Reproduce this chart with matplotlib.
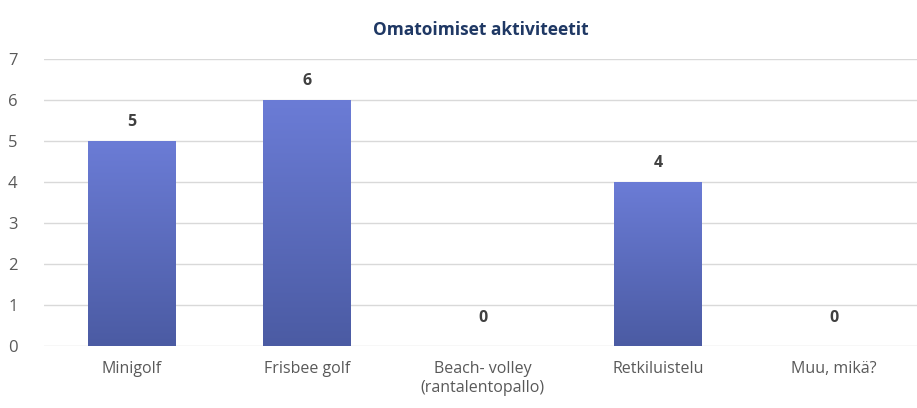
import matplotlib.pyplot as plt
import numpy as np
from matplotlib.colors import LinearSegmentedColormap

categories = ["Minigolf", "Frisbee golf", "Beach- volley\n(rantalentopallo)",
              "Retkiluistelu", "Muu, mikä?"]
values = [5, 6, 0, 4, 0]
title = "Omatoimiset aktiviteetit"

plt.rcParams["font.family"] = ["Open Sans", "DejaVu Sans"]

W, H = 917, 408
fig = plt.figure(figsize=(W / 100, H / 100), dpi=100)
ax = fig.add_axes([44 / W, 62 / H, 873 / W, 287 / H])

x = np.arange(len(categories))
bars = ax.bar(x, values, width=0.5, color="none", edgecolor="none", zorder=2)

# vertical gradient fill clipped to each bar
cmap = LinearSegmentedColormap.from_list("bar", ["#4b5ba3", "#6b7cd6"])
grad = np.linspace(0, 1, 256).reshape(-1, 1)
for b in bars:
    if b.get_height() == 0:
        continue
    bx, by = b.get_x(), b.get_y()
    im = ax.imshow(grad, cmap=cmap, origin="lower", aspect="auto",
                   extent=(bx, bx + b.get_width(), by, by + b.get_height()),
                   zorder=2)
    im.set_clip_path(b)

for xi, v in zip(x, values):
    off = 14 if v > 0 else 20
    ax.annotate(str(v), (xi, v), xytext=(0, off), textcoords="offset points",
                ha="center", va="center", fontsize=11.5, fontweight="bold",
                color="#404040")

ax.set_xlim(-0.5, -0.5 + 873 / 175.5)
ax.set_ylim(0, 7)
ax.set_yticks(range(0, 8))
ax.set_xticks(x)
ax.set_xticklabels(categories, fontsize=11.5, color="#595959", linespacing=1.25)
ax.tick_params(axis="y", labelsize=12, labelcolor="#595959", pad=19)
ax.tick_params(length=0)
ax.tick_params(axis="x", pad=11)
ax.yaxis.grid(True, color="#d9d9d9", linewidth=1, zorder=0)
ax.set_axisbelow(True)
for s in ax.spines.values():
    s.set_visible(False)

fig.text(481 / W, 1 - 30 / H, title, ha="center", va="center",
         fontsize=12.5, fontweight="bold", color="#1f3864")

fig.savefig("out.png", dpi=100)
